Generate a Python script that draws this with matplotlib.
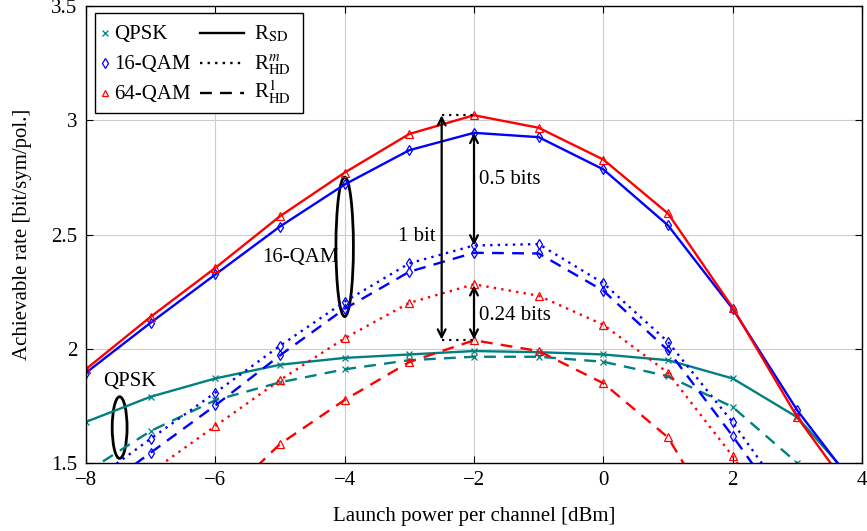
import numpy as np
import matplotlib
matplotlib.use("Agg")
import matplotlib.pyplot as plt
from matplotlib.patches import Ellipse, Rectangle
from matplotlib.lines import Line2D

plt.rcParams['font.family'] = ['Liberation Serif', 'DejaVu Serif']
plt.rcParams['mathtext.fontset'] = 'stix'

x = [-8, -7, -6, -5, -4, -3, -2, -1, 0, 1, 2, 3, 4]

qpsk_sd = [1.68, 1.79, 1.87, 1.93, 1.96, 1.975, 1.99, 1.985, 1.975, 1.95, 1.87, 1.70, 1.38]
qpsk_hd1 = [1.46, 1.64, 1.775, 1.853, 1.91, 1.95, 1.965, 1.965, 1.943, 1.88, 1.745, 1.50, 1.20]

qam16_sd = [1.895, 2.114, 2.325, 2.535, 2.719, 2.869, 2.945, 2.926, 2.785, 2.54, 2.175, 1.73, 1.36]
qam16_hdm = [1.40, 1.606, 1.808, 2.013, 2.206, 2.374, 2.452, 2.458, 2.287, 2.03, 1.678, 1.28, 1.0]
qam16_hd1 = [1.338, 1.545, 1.752, 1.971, 2.175, 2.337, 2.42, 2.417, 2.254, 1.993, 1.618, 1.22, 0.95]

qam64_sd = [1.911, 2.14, 2.354, 2.58, 2.771, 2.94, 3.022, 2.967, 2.828, 2.592, 2.18, 1.70, 1.31]
qam64_hdm = [1.26, 1.46, 1.662, 1.863, 2.046, 2.201, 2.282, 2.232, 2.105, 1.895, 1.53, 1.10, 0.8]
qam64_hd1 = [0.9, 1.1, 1.31, 1.583, 1.776, 1.942, 2.037, 1.99, 1.849, 1.612, 1.14, 0.8, 0.5]

marker_labels = ['QPSK', '16-QAM', '64-QAM']
line_labels = [r'R$_{\rm SD}$', r'R$_{\rm HD}^{m}$', r'R$_{\rm HD}^{1}$']

teal = '#008080'
blue = '#0000ff'
red = '#ff0000'
FS = 15
W, H = 867, 531

fig = plt.figure(figsize=(W / 100, H / 100), dpi=100)
ax = fig.add_axes([86/W, 1-463/H, (862-86)/W, (463-6)/H])

lw = 1.7
dotted = (0, (1, 2.2))
dashed = (0, (5, 3.5))

def plot_series(y, color, marker, ls, ms):
    ax.plot(x, y, color=color, ls=ls, lw=lw, marker=marker, ms=ms,
            mfc='none', mec=color, mew=0.9, dash_capstyle='butt',
            solid_capstyle='butt')

plot_series(qpsk_sd, teal, 'x', '-', 4)
plot_series(qpsk_hd1, teal, 'x', dashed, 4)
plot_series(qam16_hdm, blue, 'd', dotted, 5.5)
plot_series(qam16_hd1, blue, 'd', dashed, 5.5)
plot_series(qam16_sd, blue, 'd', '-', 5.5)
plot_series(qam64_hdm, red, '^', dotted, 5.5)
plot_series(qam64_hd1, red, '^', dashed, 5.5)
plot_series(qam64_sd, red, '^', '-', 5.5)

ax.set_xlim(-8, 4)
ax.set_ylim(1.5, 3.5)
ax.set_xticks([-8, -6, -4, -2, 0, 2, 4])
ax.set_yticks([1.5, 2, 2.5, 3, 3.5])
ax.set_yticklabels(['1.5', '2', '2.5', '3', '3.5'])
ax.grid(True, color='#cccccc', lw=0.8)
ax.set_axisbelow(True)
ax.tick_params(direction='in', top=True, right=True, labelsize=FS, length=5, pad=6)
for s in ax.spines.values():
    s.set_linewidth(1.0)
ax.set_xlabel('Launch power per channel [dBm]', fontsize=FS, labelpad=12)
ax.set_ylabel('Achievable rate [bit/sym/pol.]', fontsize=FS, labelpad=14)

# annotations: arrows
arrow_kw = dict(arrowstyle='<->', color='black', lw=1.6, shrinkA=0, shrinkB=0, mutation_scale=14)
ax.annotate('', xy=(-2.5, 3.022), xytext=(-2.5, 2.04), arrowprops=arrow_kw)
ax.annotate('', xy=(-2.0, 2.945), xytext=(-2.0, 2.452), arrowprops=arrow_kw)
ax.annotate('', xy=(-2.0, 2.278), xytext=(-2.0, 2.04), arrowprops=arrow_kw)
ax.plot([-2.5, -2.0], [3.022, 3.022], color='black', ls=dotted, lw=1.6)
ax.plot([-2.5, -2.0], [2.04, 2.04], color='black', ls=dotted, lw=1.6)

ax.text(-1.92, 2.74, '0.5 bits', fontsize=FS, va='center', ha='left')
ax.text(-1.92, 2.145, '0.24 bits', fontsize=FS, va='center', ha='left')
ax.text(-2.6, 2.49, '1 bit', fontsize=FS, va='center', ha='right')

ax.add_patch(Ellipse((-4, 2.446), 0.27, 0.61, fill=False, ec='black', lw=2.0))
ax.text(-4.1, 2.40, '16-QAM', fontsize=FS, va='center', ha='right')
ax.add_patch(Ellipse((-7.48, 1.655), 0.23, 0.27, fill=False, ec='black', lw=2.0))
ax.text(-7.33, 1.856, 'QPSK', fontsize=FS, va='center', ha='center')

# manual legend (pixel layout -> figure fraction)
def fx(px):
    return px / W

def fy(py):
    return 1 - py / H

fig.add_artist(Rectangle((fx(94.5), fy(113)), fx(303) - fx(94.5), fy(13) - fy(113),
                         transform=fig.transFigure, fc='white', ec='black', lw=1.0, zorder=5))
row_mid = [33, 62.5, 92.5]
row_base = [39.5, 69, 99]
mk = [('x', teal, 4), ('d', blue, 5), ('^', red, 5)]
lstyles = ['-', dotted, dashed]
for i in range(3):
    m, c, ms = mk[i]
    fig.add_artist(Line2D([fx(105)], [fy(row_mid[i])], transform=fig.transFigure,
                          ls='none', marker=m, color=c, mfc='none', ms=ms, mew=0.9, zorder=6))
    fig.text(fx(114), fy(row_base[i]), marker_labels[i], fontsize=FS,
             ha='left', va='baseline', zorder=6)
    fig.add_artist(Line2D([fx(200), fx(244)], [fy(row_mid[i])] * 2, transform=fig.transFigure,
                          ls=lstyles[i], color='black', lw=lw, dash_capstyle='butt', zorder=6))
    fig.text(fx(254), fy(row_base[i]), line_labels[i], fontsize=FS,
             ha='left', va='baseline', zorder=6)

fig.savefig('out.png', dpi=100)
